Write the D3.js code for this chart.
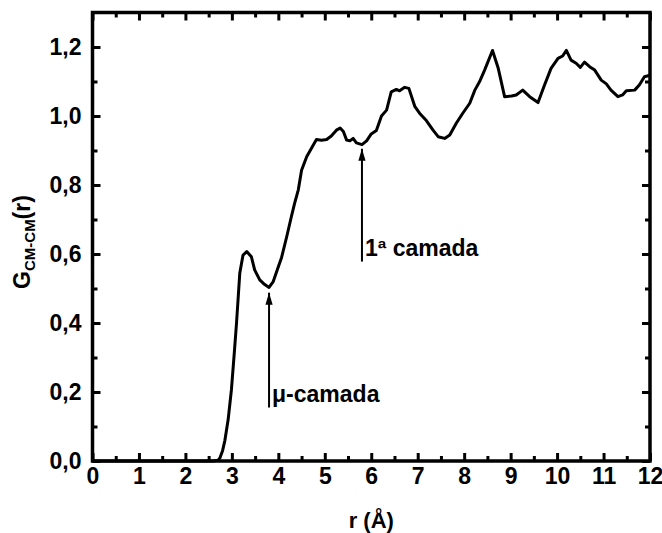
<!DOCTYPE html>
<html>
<head>
<meta charset="utf-8">
<script src="https://cdn.jsdelivr.net/npm/d3@7"></script>
<style>
  body { margin: 0; background: #fff; }
  text { font-family: Arial, "Liberation Sans", sans-serif; font-weight: bold; fill: #000; }
</style>
</head>
<body>
<div id="c1"></div>
<script>
// Data
var rValues = [0, 2.6, 2.7, 2.74, 2.8, 2.85, 2.92, 2.99, 3.05, 3.10, 3.17, 3.24, 3.32, 3.42, 3.49, 3.60,
  3.70, 3.80, 3.89, 4.00, 4.07, 4.18, 4.28, 4.35, 4.43, 4.50, 4.61, 4.71, 4.82, 4.93, 5.04, 5.14,
  5.25, 5.33, 5.40, 5.47, 5.54, 5.61, 5.68, 5.80, 5.90, 6.0, 6.11, 6.22, 6.33, 6.43, 6.54, 6.61,
  6.72, 6.81, 6.94, 7.04, 7.19, 7.33, 7.44, 7.58, 7.69, 7.83, 7.97, 8.12, 8.23, 8.33, 8.44, 8.61,
  8.73, 8.87, 9.02, 9.12, 9.26, 9.41, 9.59, 9.73, 9.87, 10.02, 10.12, 10.2, 10.3, 10.41, 10.5, 10.59,
  10.7, 10.81, 10.95, 11.06, 11.16, 11.31, 11.41, 11.49, 11.67, 11.77, 11.88, 12.0];
var gValues = [0, 0, 0.002, 0.008, 0.03, 0.06, 0.12, 0.206, 0.31, 0.40, 0.544, 0.597, 0.607, 0.592, 0.554, 0.525,
  0.512, 0.503, 0.52, 0.563, 0.59, 0.65, 0.708, 0.747, 0.786, 0.843, 0.882, 0.906, 0.932, 0.930, 0.932, 0.942,
  0.959, 0.965, 0.955, 0.93, 0.928, 0.935, 0.922, 0.917, 0.928, 0.948, 0.958, 1.0, 1.017, 1.07, 1.077, 1.073,
  1.083, 1.08, 1.027, 1.008, 0.986, 0.959, 0.94, 0.935, 0.945, 0.979, 1.008, 1.037, 1.075, 1.099, 1.133, 1.19,
  1.14, 1.056, 1.058, 1.061, 1.075, 1.056, 1.039, 1.09, 1.138, 1.167, 1.174, 1.19, 1.162, 1.153, 1.141, 1.156,
  1.143, 1.133, 1.104, 1.093, 1.075, 1.056, 1.061, 1.073, 1.075, 1.09, 1.114, 1.118];

var xTicks = [0, 1, 2, 3, 4, 5, 6, 7, 8, 9, 10, 11, 12];
var yTicks = [0, 0.2, 0.4, 0.6, 0.8, 1.0, 1.2];

// annotations: label, r of arrow, arrow tip g, arrow tail g
var noteLabels = ["\u03bc-camada", "1\u00aa camada"];
var noteR = [3.8, 5.8];
var noteTip = [0.488, 0.905];
var noteTail = [0.155, 0.578];

var w = 662, h = 533;
var mLeft = 92.5, mRight = 650, mTop = 12.5, mBottom = 461;

var svg = d3.select("#c1").append("svg")
  .attr("width", w)
  .attr("height", h);

var x = d3.scaleLinear().domain([0, 12]).range([mLeft, mRight]);
var y = d3.scaleLinear().domain([0, 1.3]).range([mBottom, mTop]);

var fmt = function (d) { return d3.format(".1f")(d).replace(".", ","); };

// minor ticks
var xMinor = d3.range(0.5, 12, 1);
var yMinor = d3.range(0.1, 1.3, 0.2);

function styleAxis(g) {
  g.selectAll("path").remove();
  g.selectAll("line").attr("stroke", "#000").attr("stroke-width", 3);
  g.selectAll("text").style("font-size", "23px").attr("fill", "#000");
}

svg.append("g").attr("transform", "translate(0," + mBottom + ")")
  .call(d3.axisBottom(x).tickValues(xTicks).tickSize(-8).tickPadding(7).tickFormat(d3.format("d")))
  .call(styleAxis);
svg.append("g").attr("transform", "translate(0," + mBottom + ")")
  .call(d3.axisBottom(x).tickValues(xMinor).tickSize(-5).tickFormat(""))
  .call(styleAxis);
svg.append("g").attr("transform", "translate(0," + mTop + ")")
  .call(d3.axisTop(x).tickValues(xTicks).tickSize(-8).tickFormat(""))
  .call(styleAxis);
svg.append("g").attr("transform", "translate(0," + mTop + ")")
  .call(d3.axisTop(x).tickValues(xMinor).tickSize(-5).tickFormat(""))
  .call(styleAxis);

svg.append("g").attr("transform", "translate(" + mLeft + ",0)")
  .call(d3.axisLeft(y).tickValues(yTicks).tickSize(-8).tickPadding(11).tickFormat(fmt))
  .call(styleAxis);
svg.append("g").attr("transform", "translate(" + mLeft + ",0)")
  .call(d3.axisLeft(y).tickValues(yMinor).tickSize(-5).tickFormat(""))
  .call(styleAxis);
svg.append("g").attr("transform", "translate(" + mRight + ",0)")
  .call(d3.axisRight(y).tickValues(yTicks).tickSize(-8).tickFormat(""))
  .call(styleAxis);
svg.append("g").attr("transform", "translate(" + mRight + ",0)")
  .call(d3.axisRight(y).tickValues(yMinor).tickSize(-5).tickFormat(""))
  .call(styleAxis);

// frame
svg.append("rect")
  .attr("x", mLeft).attr("y", mTop)
  .attr("width", mRight - mLeft).attr("height", mBottom - mTop)
  .attr("fill", "none").attr("stroke", "#000").attr("stroke-width", 3.5);

// curve
var line = d3.line()
  .x(function (d, i) { return x(rValues[i]); })
  .y(function (d, i) { return y(gValues[i]); });

svg.append("path")
  .datum(gValues)
  .attr("d", line)
  .attr("fill", "none")
  .attr("stroke", "#000")
  .attr("stroke-width", 3)
  .attr("stroke-linejoin", "round");

// arrows
svg.append("defs").append("marker")
  .attr("id", "head")
  .attr("viewBox", "0 0 10 10")
  .attr("refX", 10).attr("refY", 5)
  .attr("markerWidth", 6).attr("markerHeight", 6)
  .attr("orient", "auto")
  .append("path")
  .attr("d", "M0,2 L10,5 L0,8 Z")
  .attr("fill", "#000");

noteLabels.forEach(function (label, i) {
  svg.append("line")
    .attr("x1", x(noteR[i])).attr("x2", x(noteR[i]))
    .attr("y1", y(noteTail[i])).attr("y2", y(noteTip[i]))
    .attr("stroke", "#000").attr("stroke-width", 2)
    .attr("marker-end", "url(#head)");
  svg.append("text")
    .attr("x", x(noteR[i]) + 3)
    .attr("y", y(noteTail[i]) - 6)
    .style("font-size", "23px")
    .text(label);
});

// axis titles
svg.append("text")
  .attr("x", (mLeft + mRight) / 2)
  .attr("y", 528)
  .attr("text-anchor", "middle")
  .style("font-size", "22px")
  .text("r (\u00c5)");

var yt = svg.append("text")
  .attr("transform", "translate(30,242) rotate(-90)")
  .attr("text-anchor", "middle")
  .style("font-size", "23px");
yt.append("tspan").text("G");
yt.append("tspan").attr("dy", 5).style("font-size", "15px").text("CM-CM");
yt.append("tspan").attr("dy", -5).text("(r)");
</script>
</body>
</html>
